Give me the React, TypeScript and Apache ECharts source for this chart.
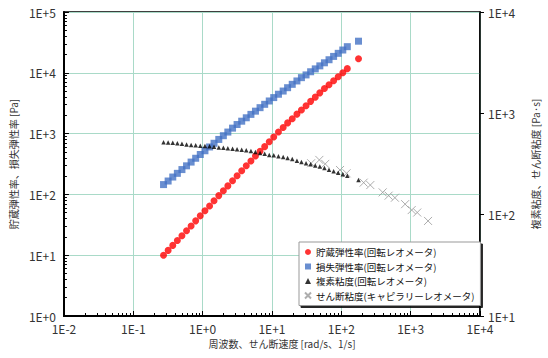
import React, { useEffect, useRef } from 'react';
import * as echarts from 'echarts';

// Rotational rheometer: angular frequency [rad/s]
const omega = [0.273, 0.318, 0.371, 0.432, 0.503, 0.586, 0.682, 0.794, 0.925, 1.08, 1.26, 1.46, 1.71, 1.99, 2.31, 2.7, 3.14, 3.66, 4.26, 4.97, 5.78, 6.73, 7.85, 9.14, 10.6, 12.4, 14.5, 16.8, 19.6, 22.9, 26.6, 31.0, 36.1, 42.1, 49.0, 57.1, 66.5, 77.4, 90.2, 105, 122, 177];
// Storage modulus G' [Pa]
const storageModulus = [10.0, 12.0, 14.5, 17.4, 20.9, 25.2, 30.3, 36.7, 44.4, 53.7, 64.6, 78.5, 95.5, 115, 138, 168, 202, 245, 295, 355, 427, 513, 610, 733, 881, 1060, 1260, 1500, 1760, 2090, 2450, 2880, 3390, 3980, 4680, 5500, 6380, 7410, 8610, 10000, 11700, 17000];
// Loss modulus G'' [Pa]
const lossModulus = [145, 166, 193, 222, 256, 295, 340, 393, 453, 522, 603, 693, 802, 923, 1060, 1230, 1410, 1600, 1820, 2070, 2340, 2670, 3030, 3440, 3910, 4440, 5010, 5690, 6460, 7340, 8320, 9230, 10400, 11600, 13000, 14600, 16400, 18600, 20900, 23700, 26900, 33100];
// Complex viscosity [Pa·s]
const complexViscosity = [519, 515, 512, 508, 501, 493, 488, 483, 480, 476, 473, 469, 461, 457, 453, 448, 443, 438, 432, 426, 416, 407, 399, 388, 385, 378, 370, 362, 354, 341, 331, 322, 314, 305, 298, 288, 277, 268, 259, 251, 242, 220];
// Capillary rheometer: shear rate [1/s] and shear viscosity [Pa·s]
const capShearRate = [36.7, 48.2, 58.6, 95.8, 119, 210, 262, 395, 481, 593, 832, 1035, 1244, 1782];
const capShearViscosity = [322, 347, 317, 276, 256, 207, 196, 166, 154, 147, 127, 111, 105, 86.7];

const xTickLabels = ['1E-2', '1E-1', '1E+0', '1E+1', '1E+2', '1E+3', '1E+4'];
const yLeftTickLabels = ['1E+0', '1E+1', '1E+2', '1E+3', '1E+4', '1E+5'];
const yRightTickLabels = ['1E+1', '1E+2', '1E+3', '1E+4'];
const minorMultipliers = [2, 3, 4, 5, 6, 7, 8, 9];

const seriesNames = [
  '貯蔵弾性率(回転レオメータ)',
  '損失弾性率(回転レオメータ)',
  '複素粘度(回転レオメータ)',
  'せん断粘度(キャピラリーレオメータ)',
];

const FONT = "'Noto Sans CJK JP', 'Noto Sans', sans-serif";
const CROSS = 'path://M0,0L10,10M10,0L0,10';

function minorLogTicks(fromExp: number, toExp: number): number[] {
  const out: number[] = [];
  for (let e = fromExp; e < toExp; e++) {
    for (const m of minorMultipliers) out.push(e + Math.log10(m));
  }
  return out;
}

function labelFor(labels: string[], firstExp: number) {
  return (v: number) => {
    const e = Math.round(Math.log10(v));
    return labels[e - firstExp] ?? '';
  };
}

export default function App() {
  const ref = useRef<HTMLDivElement>(null);
  useEffect(() => {
    if (!ref.current) return;
    const chart = echarts.init(ref.current, null, { renderer: 'svg' });
    const axisLabelStyle = { fontFamily: FONT, fontSize: 12, color: '#333' };
    const gridLine = { show: true, lineStyle: { color: '#a9dac8', width: 1 } };
    chart.setOption({
      animation: false,
      backgroundColor: '#fff',
      grid: { left: 60, right: 66, top: 12, bottom: 42, show: true, borderColor: '#000', borderWidth: 1.5, backgroundColor: 'transparent' },
      xAxis: [
        {
          type: 'log', min: 0.01, max: 10000, logBase: 10, position: 'bottom',
          name: '周波数、せん断速度 [rad/s、1/s]', nameLocation: 'middle', nameGap: 20,
          nameTextStyle: { fontFamily: FONT, fontSize: 10, color: '#333', padding: [0, 0, 0, 20] },
          axisLine: { onZero: false, lineStyle: { color: '#000', width: 2 } },
          axisTick: { inside: true, length: 5, lineStyle: { color: '#000' } },
          axisLabel: { ...axisLabelStyle, margin: 6, formatter: labelFor(xTickLabels, -2) },
          splitLine: gridLine,
        },
        {
          type: 'value', min: -2, max: 4, position: 'bottom',
          axisLine: { show: false, onZero: false }, axisLabel: { show: false }, splitLine: { show: false },
          axisTick: { show: true, inside: true, length: 3, customValues: minorLogTicks(-2, 4), lineStyle: { color: '#000' } },
        },
      ],
      yAxis: [
        {
          type: 'log', min: 1, max: 100000, logBase: 10, position: 'left',
          name: '貯蔵弾性率、損失弾性率 [Pa]', nameLocation: 'middle', nameGap: 40,
          nameTextStyle: { fontFamily: FONT, fontSize: 10, color: '#333' },
          axisLine: { show: true, onZero: false, lineStyle: { color: '#000', width: 2 } },
          axisTick: { show: true, inside: true, length: 5, lineStyle: { color: '#000' } },
          axisLabel: { ...axisLabelStyle, margin: 8, formatter: labelFor(yLeftTickLabels, 0) },
          splitLine: gridLine,
        },
        {
          type: 'log', min: 10, max: 10000, logBase: 10, position: 'right',
          name: '複素粘度、せん断粘度 [Pa·s]', nameLocation: 'middle', nameGap: 50,
          nameTextStyle: { fontFamily: FONT, fontSize: 10, color: '#333' },
          axisLine: { show: true, onZero: false, lineStyle: { color: '#000', width: 1.5 } },
          axisTick: { show: true, inside: false, length: 4, lineStyle: { color: '#000' } },
          axisLabel: { ...axisLabelStyle, margin: 8, formatter: labelFor(yRightTickLabels, 1) },
          splitLine: { show: false },
        },
        {
          type: 'value', min: 0, max: 5, position: 'left',
          axisLine: { show: false, onZero: false }, axisLabel: { show: false }, splitLine: { show: false },
          axisTick: { show: true, inside: true, length: 3, customValues: minorLogTicks(0, 5), lineStyle: { color: '#000' } },
        },
      ],
      legend: {
        orient: 'vertical', left: 299, top: 242,
        backgroundColor: '#fff', borderColor: '#999', borderWidth: 1,
        shadowColor: 'rgba(0,0,0,0.85)', shadowOffsetX: 2, shadowOffsetY: 2, shadowBlur: 0,
        padding: [4, 6, 4, 5], itemGap: 2.5, itemWidth: 6, itemHeight: 6,
        textStyle: { fontFamily: FONT, fontSize: 9.5, color: '#111', lineHeight: 12 },
        data: seriesNames,
      },
      series: [
        {
          name: seriesNames[0], type: 'scatter', xAxisIndex: 0, yAxisIndex: 0,
          symbol: 'circle', symbolSize: 7, itemStyle: { color: '#ff0000' },
          data: omega.map((w, i) => [w, storageModulus[i]]), z: 3,
        },
        {
          name: seriesNames[1], type: 'scatter', xAxisIndex: 0, yAxisIndex: 0,
          symbol: 'rect', symbolSize: 7, itemStyle: { color: '#4472c4' },
          data: omega.map((w, i) => [w, lossModulus[i]]), z: 3,
        },
        {
          name: seriesNames[2], type: 'scatter', xAxisIndex: 0, yAxisIndex: 1,
          symbol: 'triangle', symbolSize: 4.5, itemStyle: { color: '#000' },
          data: omega.map((w, i) => [w, complexViscosity[i]]), z: 4,
        },
        {
          name: seriesNames[3], type: 'scatter', xAxisIndex: 0, yAxisIndex: 1,
          symbol: CROSS, symbolSize: 8, itemStyle: { color: '#999', borderColor: '#999', borderWidth: 1 },
          data: capShearRate.map((s, i) => [s, capShearViscosity[i]]), z: 3,
        },
      ],
    });
    return () => chart.dispose();
  }, []);
  return <div ref={ref} style={{ position: 'fixed', left: 0, top: 0, width: 548, height: 358 }} />;
}
